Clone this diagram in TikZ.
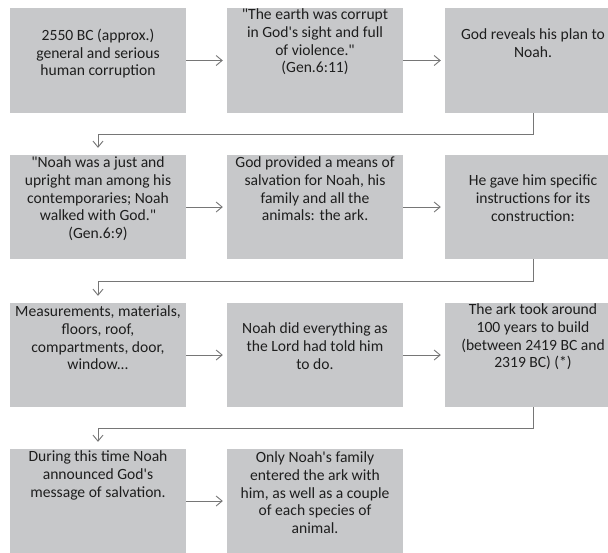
\documentclass[tikz,border=0pt]{standalone}
\usepackage{fontspec}
\newfontfamily\boxfont{Carlito}
\usetikzlibrary{arrows.meta}
\definecolor{boxgray}{RGB}{199,200,202}
\definecolor{txtdark}{RGB}{30,30,30}
\definecolor{linegray}{RGB}{118,118,118}
\tikzset{
  card/.style={rectangle, fill=boxgray, draw=none, minimum width=176pt, minimum height=104pt, inner sep=0pt},
  cardtext/.style={anchor=north, align=center, inner sep=0pt, text=txtdark, font=\boxfont\fontsize{15.6}{17.7}\selectfont},
  conn/.style={draw=linegray, line width=0.9pt, -{Straight Barb[length=6pt,width=10pt]}},
  flow/.style={conn, shorten >=4pt},
  turn/.style={conn, shorten >=7pt},
}
\begin{document}
\begin{tikzpicture}[x=1pt,y=-1pt]
\useasboundingbox (0,0) rectangle (608,552);
\clip (0,0) rectangle (608,552);
\fill[white] (0,0) rectangle (608,552);
% row 1
\node[card, minimum height=105pt] (b1) at (98,60.5) {};
\node[card, minimum height=105pt] (b2) at (315,60.5) {};
\node[card, minimum height=105pt] (b3) at (533,60.5) {};
% row 2
\node[card] (b4) at (98,207) {};
\node[card] (b5) at (315,207) {};
\node[card] (b6) at (533,207) {};
% row 3
\node[card] (b7) at (98,355) {};
\node[card] (b8) at (315,355) {};
\node[card] (b9) at (533,355) {};
% row 4
\node[card] (b10) at (98,501) {};
\node[card] (b11) at (315,501) {};
% texts
\node[cardtext] (t1) at ([yshift=-21pt]b1.north) {2550 BC (approx.)\\general and serious\\human corruption};
\node[cardtext] (t2) at ([yshift=-1pt]b2.north) {"The earth was corrupt\\in God's sight and full\\of violence."\\(Gen.6:11)};
\node[cardtext] (t3) at ([yshift=-21pt]b3.north) {God reveals his plan to\\Noah.};
\node[cardtext] (t4) at ([yshift=-2pt]b4.north) {"Noah was a just and\\upright man among his\\contemporaries; Noah\\walked with God."\\(Gen.6:9)};
\node[cardtext] (t5) at ([yshift=-2pt]b5.north) {God provided a means of\\salvation for Noah, his\\family and all the\\animals: the ark.};
\node[cardtext] (t6) at ([yshift=-20pt]b6.north) {He gave him specific\\instructions for its\\construction:};
\node[cardtext] (t7) at ([yshift=-3pt]b7.north) {Measurements, materials,\\floors, roof,\\compartments, door,\\window...};
\node[cardtext] (t8) at ([yshift=-20pt]b8.north) {Noah did everything as\\the Lord had told him\\to do.};
\node[cardtext] (t9) at ([yshift=-1pt]b9.north) {The ark took around\\100 years to build\\(between 2419 BC and\\2319 BC) (*)};
\node[cardtext] (t10) at ([yshift=-2pt]b10.north) {During this time Noah\\announced God's\\message of salvation.};
\node[cardtext] (t11) at ([yshift=-3pt]b11.north) {Only Noah's family\\entered the ark with\\him, as well as a couple\\of each species of\\animal.};
% connectors
\draw[flow] (b1.east) -- (b2.west);
\draw[flow] (b2.east) -- (b3.west);
\draw[flow] (b4.east) -- (b5.west);
\draw[flow] (b5.east) -- (b6.west);
\draw[flow] (b7.east) -- (b8.west);
\draw[flow] (b8.east) -- (b9.west);
\draw[flow] (b10.east) -- (b11.west);
\draw[turn] (b3.south) -- ++(0,21) -| (b4.north);
\draw[turn] (b6.south) -- ++(0,22) -| (b7.north);
\draw[turn] (b9.south) -- ++(0,21) -| (b10.north);
\end{tikzpicture}
\end{document}
